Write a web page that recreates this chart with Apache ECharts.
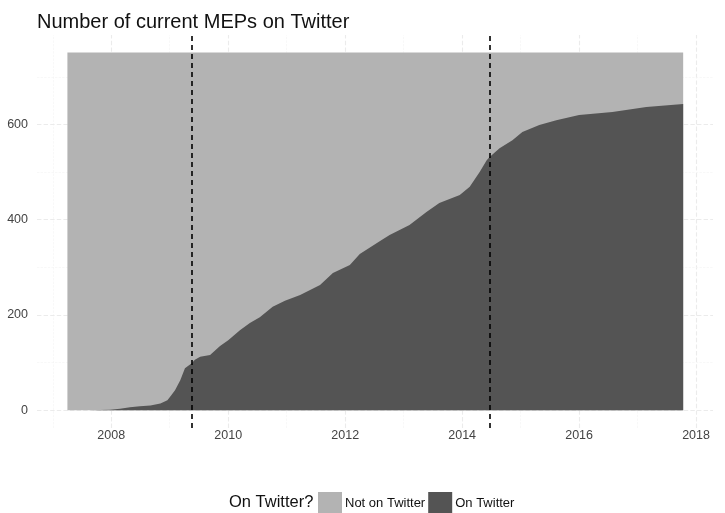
<!DOCTYPE html>
<html>
<head>
<meta charset="utf-8">
<script src="https://cdn.jsdelivr.net/npm/echarts@6/dist/echarts.min.js"></script>
<style>
html,body{margin:0;padding:0;background:#fff;}
#chart{width:725px;height:513px;}
</style>
</head>
<body>
<div id="chart"></div>
<script>
// Data (decimal years)
const onTwitterYears = [2007.25,2007.64,2007.98,2008.15,2008.32,2008.49,2008.67,2008.84,2008.96,2009.02,2009.09,2009.18,2009.26,2009.37,2009.43,2009.52,2009.69,2009.86,2010.00,2010.20,2010.37,2010.54,2010.76,2010.97,2011.23,2011.57,2011.79,2012.08,2012.25,2012.59,2012.76,2013.10,2013.39,2013.61,2013.96,2014.13,2014.30,2014.42,2014.47,2014.64,2014.86,2015.03,2015.32,2015.61,2016.00,2016.57,2017.15,2017.78];
const onTwitterCounts = [0,0,1,3,6,8,10,14,21,30,42,63,88,98,106,112,116,135,147,168,183,195,217,230,242,263,288,305,328,355,368,389,416,435,452,469,500,525,532,550,567,584,599,609,620,626,637,643];
const totalYears = [2007.25, 2017.78];
const totalMEPs = [751, 751];
const electionYears = [2009.37, 2014.47];
const xTickLabels = [2008, 2010, 2012, 2014, 2016, 2018];
const xMinorTicks = [2007, 2009, 2011, 2013, 2015, 2017];
const yTickLabels = [0, 200, 400, 600];
const yMinorTicks = [100, 300, 500, 700];

const seriesNames = ['Not on Twitter', 'On Twitter'];
const colors = ['#b3b3b3', '#545454'];

const chart = echarts.init(document.getElementById('chart'));
const font = 'Liberation Sans, Arial, sans-serif';

const gridMarks = [];
xTickLabels.forEach(v => gridMarks.push({xAxis: v, lineStyle: {color: '#ebebeb', width: 1.1}}));
xMinorTicks.forEach(v => gridMarks.push({xAxis: v, lineStyle: {color: '#f4f4f4', width: 0.6}}));
yTickLabels.forEach(v => gridMarks.push({yAxis: v, lineStyle: {color: '#ebebeb', width: 1.1}}));
yMinorTicks.forEach(v => gridMarks.push({yAxis: v, lineStyle: {color: '#f4f4f4', width: 0.6}}));

const option = {
  animation: false,
  backgroundColor: '#ffffff',
  title: {
    text: 'Number of current MEPs on Twitter',
    left: 32, top: 7,
    textStyle: {fontFamily: font, fontSize: 20, fontWeight: 'normal', color: '#111'}
  },
  grid: {left: 37, right: 12, top: 35, bottom: 85, containLabel: false},
  xAxis: {
    type: 'value', min: 2006.73, max: 2018.29,
    axisLine: {show: false}, axisTick: {show: false},
    splitLine: {show: false},
    axisLabel: {
      customValues: xTickLabels,
      formatter: v => String(Math.round(v)),
      fontFamily: font, fontSize: 12.5, color: '#444', margin: 1
    }
  },
  yAxis: {
    type: 'value', min: -37.5, max: 788,
    axisLine: {show: false}, axisTick: {show: false},
    splitLine: {show: false},
    axisLabel: {
      customValues: yTickLabels,
      formatter: v => String(Math.round(v)),
      fontFamily: font, fontSize: 12.5, color: '#444', margin: 9
    }
  },
  legend: {
    top: 492, left: 318,
    itemWidth: 24, itemHeight: 22, itemGap: 3,
    icon: 'rect',
    data: seriesNames,
    padding: 0,
    textStyle: {fontFamily: font, fontSize: 13, color: '#111', padding: [0,0,0,-2]}
  },
  graphic: [{
    type: 'text', left: 229, top: 494,
    style: {text: 'On Twitter?', fontFamily: font, fontSize: 16.5, fill: '#111'}
  }],
  series: [
    {
      name: 'grid', type: 'line', data: [], silent: true,
      markLine: {symbol: 'none', silent: true, label: {show: false}, data: gridMarks, z: 0},
      z: 0
    },
    {
      name: seriesNames[0], type: 'line', color: colors[0],
      data: totalYears.map((y, i) => [y, totalMEPs[i]]),
      showSymbol: false, lineStyle: {width: 0},
      areaStyle: {color: colors[0], opacity: 1}, z: 2
    },
    {
      name: seriesNames[1], type: 'line', color: colors[1],
      data: onTwitterYears.map((y, i) => [y, onTwitterCounts[i]]),
      showSymbol: false, lineStyle: {width: 0},
      areaStyle: {color: colors[1], opacity: 1}, z: 3,
      markLine: {
        symbol: 'none', silent: true, label: {show: false},
        lineStyle: {color: '#000', type: [5, 4], width: 1.6},
        data: electionYears.map(v => ({xAxis: v}))
      }
    }
  ]
};
chart.setOption(option);
</script>
</body>
</html>
